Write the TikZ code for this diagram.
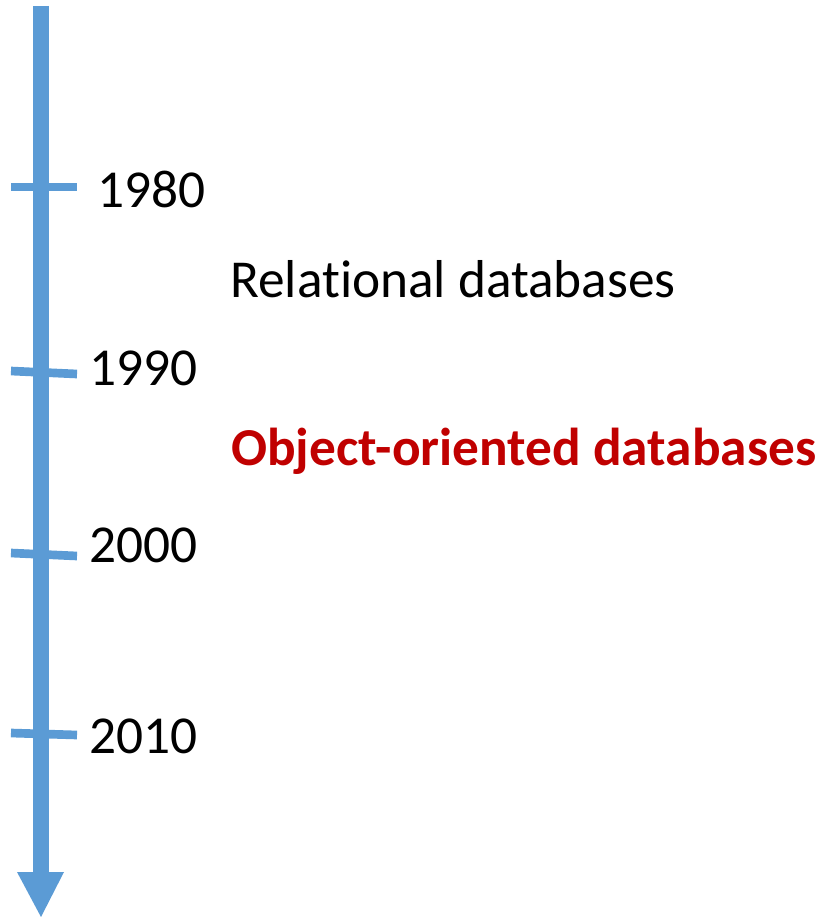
\documentclass[tikz,border=0pt]{standalone}
\usepackage{fontspec}
\setmainfont{Carlito}[Ligatures=NoCommon]
\definecolor{axisblue}{HTML}{5B9BD5}
\definecolor{darkred}{HTML}{C00000}
\begin{document}
\begin{tikzpicture}[x=0.75pt,y=-0.75pt,
  yearlabel/.style={anchor=base west,inner sep=0pt,font=\fontsize{40}{48}\selectfont},
  eralabel/.style={anchor=base west,inner sep=0pt,font=\fontsize{40}{48}\selectfont},
  tickmark/.style={draw=axisblue,line width=6.5pt}]
\useasboundingbox (0,0) rectangle (823,917);
% time axis
\coordinate (top) at (41,6);
\coordinate (headbase) at (41,872);
\draw[axisblue,line width=12pt] (top) -- (headbase);
\fill[axisblue] (17,872) -- (64,872) -- (41,917) -- cycle;
% decade ticks
\draw[tickmark] (11,187) -- (77,187);
\draw[tickmark] (11,371) -- (77,374);
\draw[tickmark] (11,553) -- (77,556);
\draw[tickmark] (11,733) -- (77,735);
% decade labels
\node[yearlabel] (y1980) at (97,207) {1980};
\node[yearlabel] (y1990) at (89,385) {1990};
\node[yearlabel] (y2000) at (89,562) {2000};
\node[yearlabel] (y2010) at (89,753) {2010};
% eras
\node[eralabel] (rel) at (230,297) {Relational databases};
\node[eralabel,text=darkred,font=\fontsize{40}{48}\selectfont\bfseries] (oo) at (231,465) {Object-oriented databases};
\end{tikzpicture}
\end{document}
